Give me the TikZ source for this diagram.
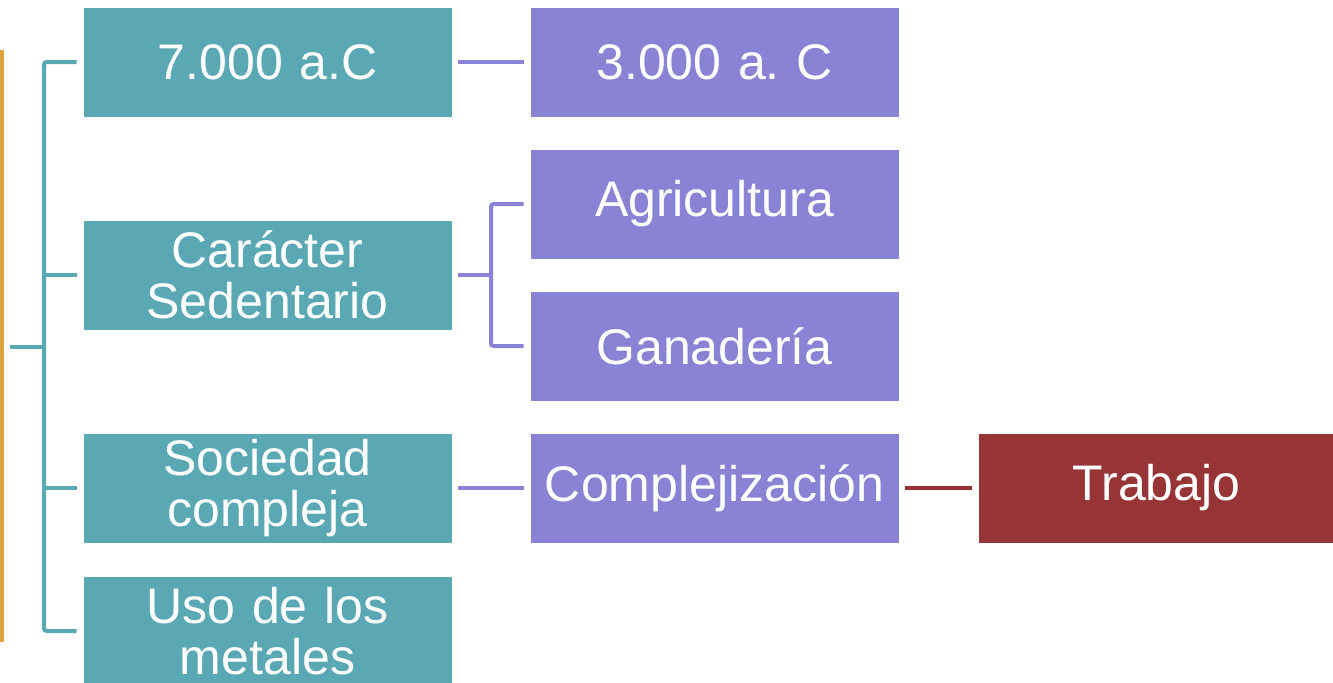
\documentclass[tikz,border=0pt]{standalone}
\usepackage{fontspec}
\setmainfont{Liberation Sans}
\frenchspacing
\definecolor{tealc}{HTML}{5AA8B4}
\definecolor{purc}{HTML}{8A82D4}
\definecolor{redc}{HTML}{963436}
\definecolor{orac}{HTML}{DDA23C}
\begin{document}
\begin{tikzpicture}[x=0.75pt,y=-0.75pt,
  boxbase/.style={draw=white,line width=0.6pt,minimum width=369*0.75pt,minimum height=110*0.75pt,inner sep=0pt,text=white,font=\fontsize{37.5}{38}\selectfont\frenchspacing,align=center,text width=360*0.75pt},
  tbox/.style={boxbase,fill=tealc},
  pbox/.style={boxbase,fill=purc},
  rbox/.style={boxbase,fill=redc,minimum width=357*0.75pt,text width=350*0.75pt},
  tline/.style={draw=tealc,line width=3pt},
  pline/.style={draw=purc,line width=3pt},
  rline/.style={draw=redc,line width=3pt}]
\useasboundingbox (0,0) rectangle (1333,682);
\fill[white] (0,0) rectangle (1333,682);
% orange bar
\fill[orac] (0,50) rectangle (4,642);
% teal column
\node[tbox] (a) at (267.5,62) {7.000 a.C};
\node[tbox] (b) at (267.5,275) {Carácter\\Sedentario};
\node[tbox] (c) at (267.5,488) {Sociedad\\compleja};
\node[tbox] (d) at (267.5,631) {Uso de los\\metales};
% purple column
\node[pbox] (e) at (714.5,62) {3.000 a. C};
\node[pbox] (f) at (714.5,204) {Agricultura};
\node[pbox] (g) at (714.5,346) {Ganadería};
\node[pbox] (h) at (714.5,488) {Complejización};
% red
\node[rbox] (i) at (1156.5,488) {Trabajo};
% left bracket
\coordinate (root) at (10,347);
\coordinate (rj) at (44,347);
\draw[tline] (root) -- (rj);
\draw[tline,rounded corners=2pt] ([xshift=-6*0.75pt]a.west) -| (rj) |- ([xshift=-6*0.75pt]d.west);
\draw[tline] (rj |- b.west) -- ([xshift=-6*0.75pt]b.west);
\draw[tline] (rj |- c.west) -- ([xshift=-6*0.75pt]c.west);
% teal -> purple
\draw[pline] ([xshift=6*0.75pt]a.east) -- ([xshift=-6*0.75pt]e.west);
\coordinate (bj) at (491,275);
\draw[pline] ([xshift=6*0.75pt]b.east) -- (bj);
\draw[pline,rounded corners=2pt] ([xshift=-6*0.75pt]f.west) -| (bj) |- ([xshift=-6*0.75pt]g.west);
\draw[pline] ([xshift=6*0.75pt]c.east) -- ([xshift=-6*0.75pt]h.west);
% purple -> red
\draw[rline] ([xshift=6*0.75pt]h.east) -- ([xshift=-6*0.75pt]i.west);
\end{tikzpicture}
\end{document}
